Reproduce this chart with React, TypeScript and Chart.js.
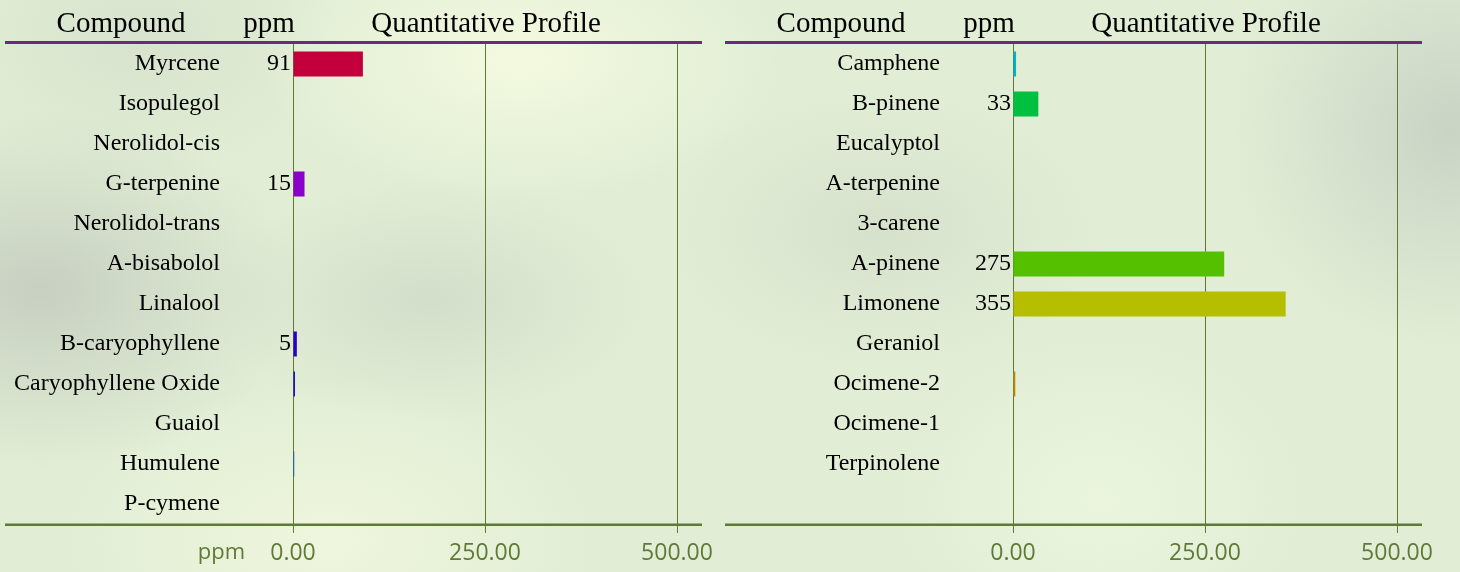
import React, { useEffect, useRef } from "react";
import { Chart, registerables } from "chart.js";

Chart.register(...registerables);

const leftCompounds = [
  "Myrcene",
  "Isopulegol",
  "Nerolidol-cis",
  "G-terpenine",
  "Nerolidol-trans",
  "A-bisabolol",
  "Linalool",
  "B-caryophyllene",
  "Caryophyllene Oxide",
  "Guaiol",
  "Humulene",
  "P-cymene",
];
const leftValues = [91, 0, 0, 15, 0, 0, 0, 5, 2.6, 0, 1.6, 0];
const leftColors = [
  "#c4003c", "#c0009a", "#a800c0", "#8a00c8", "#6a00c8", "#5000c8",
  "#3800c8", "#2a00c8", "#1a10c8", "#0830c8", "#0058c8", "#0078c8",
];

const rightCompounds = [
  "Camphene",
  "B-pinene",
  "Eucalyptol",
  "A-terpenine",
  "3-carene",
  "A-pinene",
  "Limonene",
  "Geraniol",
  "Ocimene-2",
  "Ocimene-1",
  "Terpinolene",
  "",
];
const rightValues = [4, 33, 0, 0, 0, 275, 355, 0, 3, 0, 0, 0];
const rightColors = [
  "#00b4c8", "#00c040", "#10c020", "#20c010", "#40c000", "#55c000",
  "#b5be00", "#c0a800", "#c08800", "#c07000", "#c05800", "#c04000",
];

const xTicks = [0, 250, 500];
const headers = ["Compound", "ppm", "Quantitative Profile"];
const labelThreshold = 5;

const SERIF = "'Liberation Serif', 'Times New Roman', serif";
const SANS = "'Open Sans', 'Noto Sans', sans-serif";
const OLIVE = "#5f7a36";
const PURPLE = "#6b2a7e";

function zeroPad(s: any) {
  s.paddingTop = 0;
  s.paddingBottom = 0;
  s.paddingLeft = 0;
  s.paddingRight = 0;
}

function Panel({
  labels,
  values,
  colors,
  left,
  showPpm,
}: {
  labels: string[];
  values: number[];
  colors: string[];
  left: number;
  showPpm: boolean;
}) {
  const ref = useRef<HTMLCanvasElement | null>(null);

  useEffect(() => {
    if (!ref.current) return;
    const decor = {
      id: "decor",
      beforeDatasetsDraw(chart: any) {
        const ctx = chart.ctx;
        ctx.save();
        ctx.strokeStyle = OLIVE;
        ctx.lineWidth = 2.5;
        ctx.beginPath();
        ctx.moveTo(5, 524.8);
        ctx.lineTo(702, 524.8);
        ctx.stroke();
        ctx.restore();
      },
      afterDraw(chart: any) {
        const ctx = chart.ctx;
        const xs = chart.scales.x;
        ctx.save();
        ctx.strokeStyle = PURPLE;
        ctx.lineWidth = 3;
        ctx.beginPath();
        ctx.moveTo(5, 42.5);
        ctx.lineTo(702, 42.5);
        ctx.stroke();
        ctx.fillStyle = "#000";
        ctx.font = `29px ${SERIF}`;
        ctx.textAlign = "center";
        ctx.textBaseline = "alphabetic";
        ctx.fillText(headers[0], 121, 32);
        ctx.fillText(headers[1], 269, 32);
        ctx.fillText(headers[2], 486, 32);
        const meta = chart.getDatasetMeta(0);
        const zx = xs.getPixelForValue(0);
        ctx.font = `24px ${SERIF}`;
        ctx.textAlign = "right";
        ctx.textBaseline = "middle";
        values.forEach((v, i) => {
          if (v >= labelThreshold) {
            const el = meta.data[i];
            ctx.fillText(String(Math.round(v)), zx - 2, el.y);
          }
        });
        if (showPpm) {
          ctx.fillStyle = OLIVE;
          ctx.font = `22px ${SANS}`;
          ctx.textAlign = "right";
          ctx.fillText("ppm", zx - 48, 553);
        }
        ctx.restore();
      },
    };

    const chart = new Chart(ref.current, {
      type: "bar",
      data: {
        labels,
        datasets: [
          {
            data: values,
            backgroundColor: colors,
            borderWidth: 0,
            barPercentage: 0.625,
            categoryPercentage: 1,
          },
        ],
      },
      options: {
        indexAxis: "y",
        responsive: false,
        animation: false,
        events: [],
        layout: { padding: { top: 44, right: 43, left: 0, bottom: 0 } },
        plugins: {
          legend: { display: false },
          tooltip: { enabled: false },
          title: { display: false },
        },
        scales: {
          x: {
            type: "linear",
            min: 0,
            max: 500,
            afterFit: (s: any) => {
              s.height = 48;
              zeroPad(s);
            },
            afterBuildTicks: (s: any) => {
              s.ticks = xTicks.map((v) => ({ value: v }));
            },
            grid: {
              color: OLIVE,
              lineWidth: 1,
              drawTicks: true,
              tickLength: 9,
              tickColor: OLIVE,
            },
            border: { display: false },
            ticks: {
              color: OLIVE,
              font: { family: SANS, size: 23 },
              padding: 7,
              maxRotation: 0,
              autoSkip: false,
              callback: (v: any) => Number(v).toFixed(2),
            },
          },
          y: {
            type: "category",
            afterFit: (s: any) => {
              s.width = 293;
              zeroPad(s);
            },
            grid: { display: false, drawTicks: false },
            border: { display: false },
            ticks: {
              color: "#000",
              font: { family: SERIF, size: 24 },
              padding: 73,
              autoSkip: false,
            },
          },
        },
      },
      plugins: [decor],
    });
    return () => chart.destroy();
  }, []);

  return (
    <canvas
      ref={ref}
      width={720}
      height={572}
      style={{ position: "absolute", left, top: 0, width: 720, height: 572 }}
    />
  );
}

export default function App() {
  return (
    <div
      style={{
        position: "fixed",
        left: 0,
        top: 0,
        width: 1460,
        height: 572,
        overflow: "hidden",
        background: [
          "radial-gradient(ellipse 260px 180px at 40px 290px, rgba(198,206,192,0.95), rgba(198,206,192,0))",
          "radial-gradient(ellipse 260px 140px at 520px 60px, rgba(244,250,224,0.95), rgba(244,250,224,0))",
          "radial-gradient(ellipse 220px 220px at 1450px 130px, rgba(200,210,196,0.95), rgba(200,210,196,0))",
          "radial-gradient(ellipse 220px 140px at 880px 230px, rgba(212,222,202,0.8), rgba(212,222,202,0))",
          "radial-gradient(ellipse 260px 160px at 330px 540px, rgba(240,247,222,0.9), rgba(240,247,222,0))",
          "radial-gradient(ellipse 200px 160px at 1100px 500px, rgba(236,246,222,0.9), rgba(236,246,222,0))",
          "radial-gradient(ellipse 220px 120px at 430px 300px, rgba(208,218,200,0.8), rgba(208,218,200,0))",
          "radial-gradient(ellipse 200px 140px at 140px 40px, rgba(214,226,204,0.9), rgba(214,226,204,0))",
          "#e1eed5",
        ].join(", "),
      }}
    >
      <Panel labels={leftCompounds} values={leftValues} colors={leftColors} left={0} showPpm={true} />
      <Panel labels={rightCompounds} values={rightValues} colors={rightColors} left={720} showPpm={false} />
    </div>
  );
}
